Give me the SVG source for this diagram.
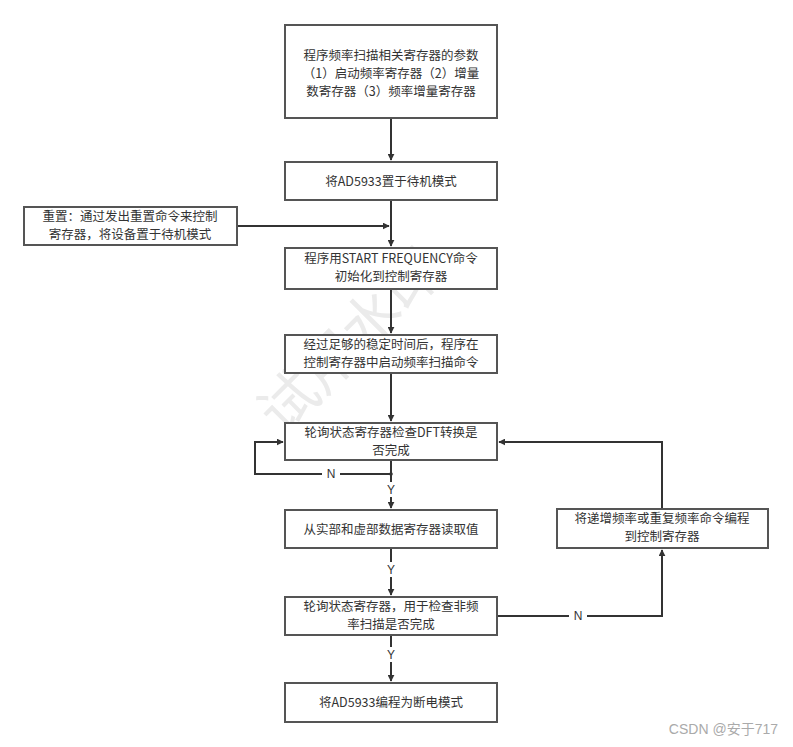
<svg xmlns="http://www.w3.org/2000/svg" width="793" height="747" viewBox="0 0 793 747">
<defs>
<marker id="arr" viewBox="0 0 10 10" refX="9" refY="5" markerWidth="7" markerHeight="7" markerUnits="userSpaceOnUse" orient="auto"><path d="M0,0 L10,5 L0,10 z" fill="#333"/></marker>
<style>
.box{fill:#fff;stroke:#555;stroke-width:2}
.t{font-family:"Noto Sans CJK SC","Liberation Sans",sans-serif;font-size:12.5px;fill:#333;text-anchor:middle}
.c{fill:none;stroke:#333;stroke-width:2}
.lbl{font-family:"Liberation Sans",sans-serif;font-size:12px;fill:#333;text-anchor:middle}
</style>
</defs>
<rect width="793" height="747" fill="#fff"/>
<text x="365" y="355" transform="rotate(-45 365 355)" font-family="Noto Sans CJK SC,sans-serif" font-size="58" fill="#ebebeb" text-anchor="middle">试用水印</text>
<g id="connectors">
<path class="c" d="M391,118 V160" marker-end="url(#arr)"/>
<path class="c" d="M391,200 V246" marker-end="url(#arr)"/>
<path class="c" d="M237,226 H389" marker-end="url(#arr)"/>
<path class="c" d="M391,289 V333" marker-end="url(#arr)"/>
<path class="c" d="M391,373 V421" marker-end="url(#arr)"/>
<path class="c" d="M391,460 V474 H255 V442 H283" marker-end="url(#arr)"/>
<circle cx="391" cy="474" r="1.8" fill="#333"/>
<path class="c" d="M391,474 V508" marker-end="url(#arr)"/>
<path class="c" d="M391,548 V595" marker-end="url(#arr)"/>
<path class="c" d="M391,635 V681" marker-end="url(#arr)"/>
<path class="c" d="M497,616 H662 V550" marker-end="url(#arr)"/>
<path class="c" d="M662,509 V442 H499" marker-end="url(#arr)"/>
<rect x="322" y="466" width="18" height="15" fill="#fff"/>
<text class="lbl" x="331" y="478">N</text>
<rect x="384" y="482" width="14" height="15" fill="#fff"/>
<text class="lbl" x="391" y="494">Y</text>
<rect x="384" y="562" width="14" height="15" fill="#fff"/>
<text class="lbl" x="391" y="574">Y</text>
<rect x="384" y="647" width="14" height="15" fill="#fff"/>
<text class="lbl" x="391" y="659">Y</text>
<rect x="569" y="608" width="18" height="15" fill="#fff"/>
<text class="lbl" x="578" y="620">N</text>
</g>
<g id="n1"><rect class="box" x="285" y="25" width="212" height="93"/>
<text class="t" x="391" y="60">程序频率扫描相关寄存器的参数</text>
<text class="t" x="391" y="78">（1）启动频率寄存器（2）增量</text>
<text class="t" x="391" y="96">数寄存器（3）频率增量寄存器</text></g>
<g id="n2"><rect class="box" x="285" y="162" width="212" height="38"/>
<text class="t" x="391" y="186">将AD5933置于待机模式</text></g>
<g id="n_reset"><rect class="box" x="24" y="207" width="213" height="38"/>
<text class="t" x="130" y="221">重置：通过发出重置命令来控制</text>
<text class="t" x="130" y="239">寄存器，将设备置于待机模式</text></g>
<g id="n3"><rect class="box" x="285" y="248" width="212" height="41"/>
<text class="t" x="391" y="263">程序用START FREQUENCY命令</text>
<text class="t" x="391" y="281">初始化到控制寄存器</text></g>
<g id="n4"><rect class="box" x="285" y="335" width="212" height="38"/>
<text class="t" x="391" y="349">经过足够的稳定时间后，程序在</text>
<text class="t" x="391" y="367">控制寄存器中启动频率扫描命令</text></g>
<g id="n5"><rect class="box" x="285" y="423" width="212" height="37"/>
<text class="t" x="391" y="437">轮询状态寄存器检查DFT转换是</text>
<text class="t" x="391" y="455">否完成</text></g>
<g id="n6"><rect class="box" x="285" y="510" width="212" height="38"/>
<text class="t" x="391" y="534">从实部和虚部数据寄存器读取值</text></g>
<g id="n7"><rect class="box" x="285" y="597" width="212" height="38"/>
<text class="t" x="391" y="611">轮询状态寄存器，用于检查非频</text>
<text class="t" x="391" y="629">率扫描是否完成</text></g>
<g id="n8"><rect class="box" x="285" y="683" width="212" height="39"/>
<text class="t" x="391" y="707">将AD5933编程为断电模式</text></g>
<g id="n9"><rect class="box" x="557" y="509" width="211" height="39"/>
<text class="t" x="662" y="523">将递增频率或重复频率命令编程</text>
<text class="t" x="662" y="541">到控制寄存器</text></g>
<text x="778" y="734" font-family="Liberation Sans,Noto Sans CJK SC,sans-serif" font-size="14" fill="#aaa" text-anchor="end">CSDN @安于717</text>
</svg>
